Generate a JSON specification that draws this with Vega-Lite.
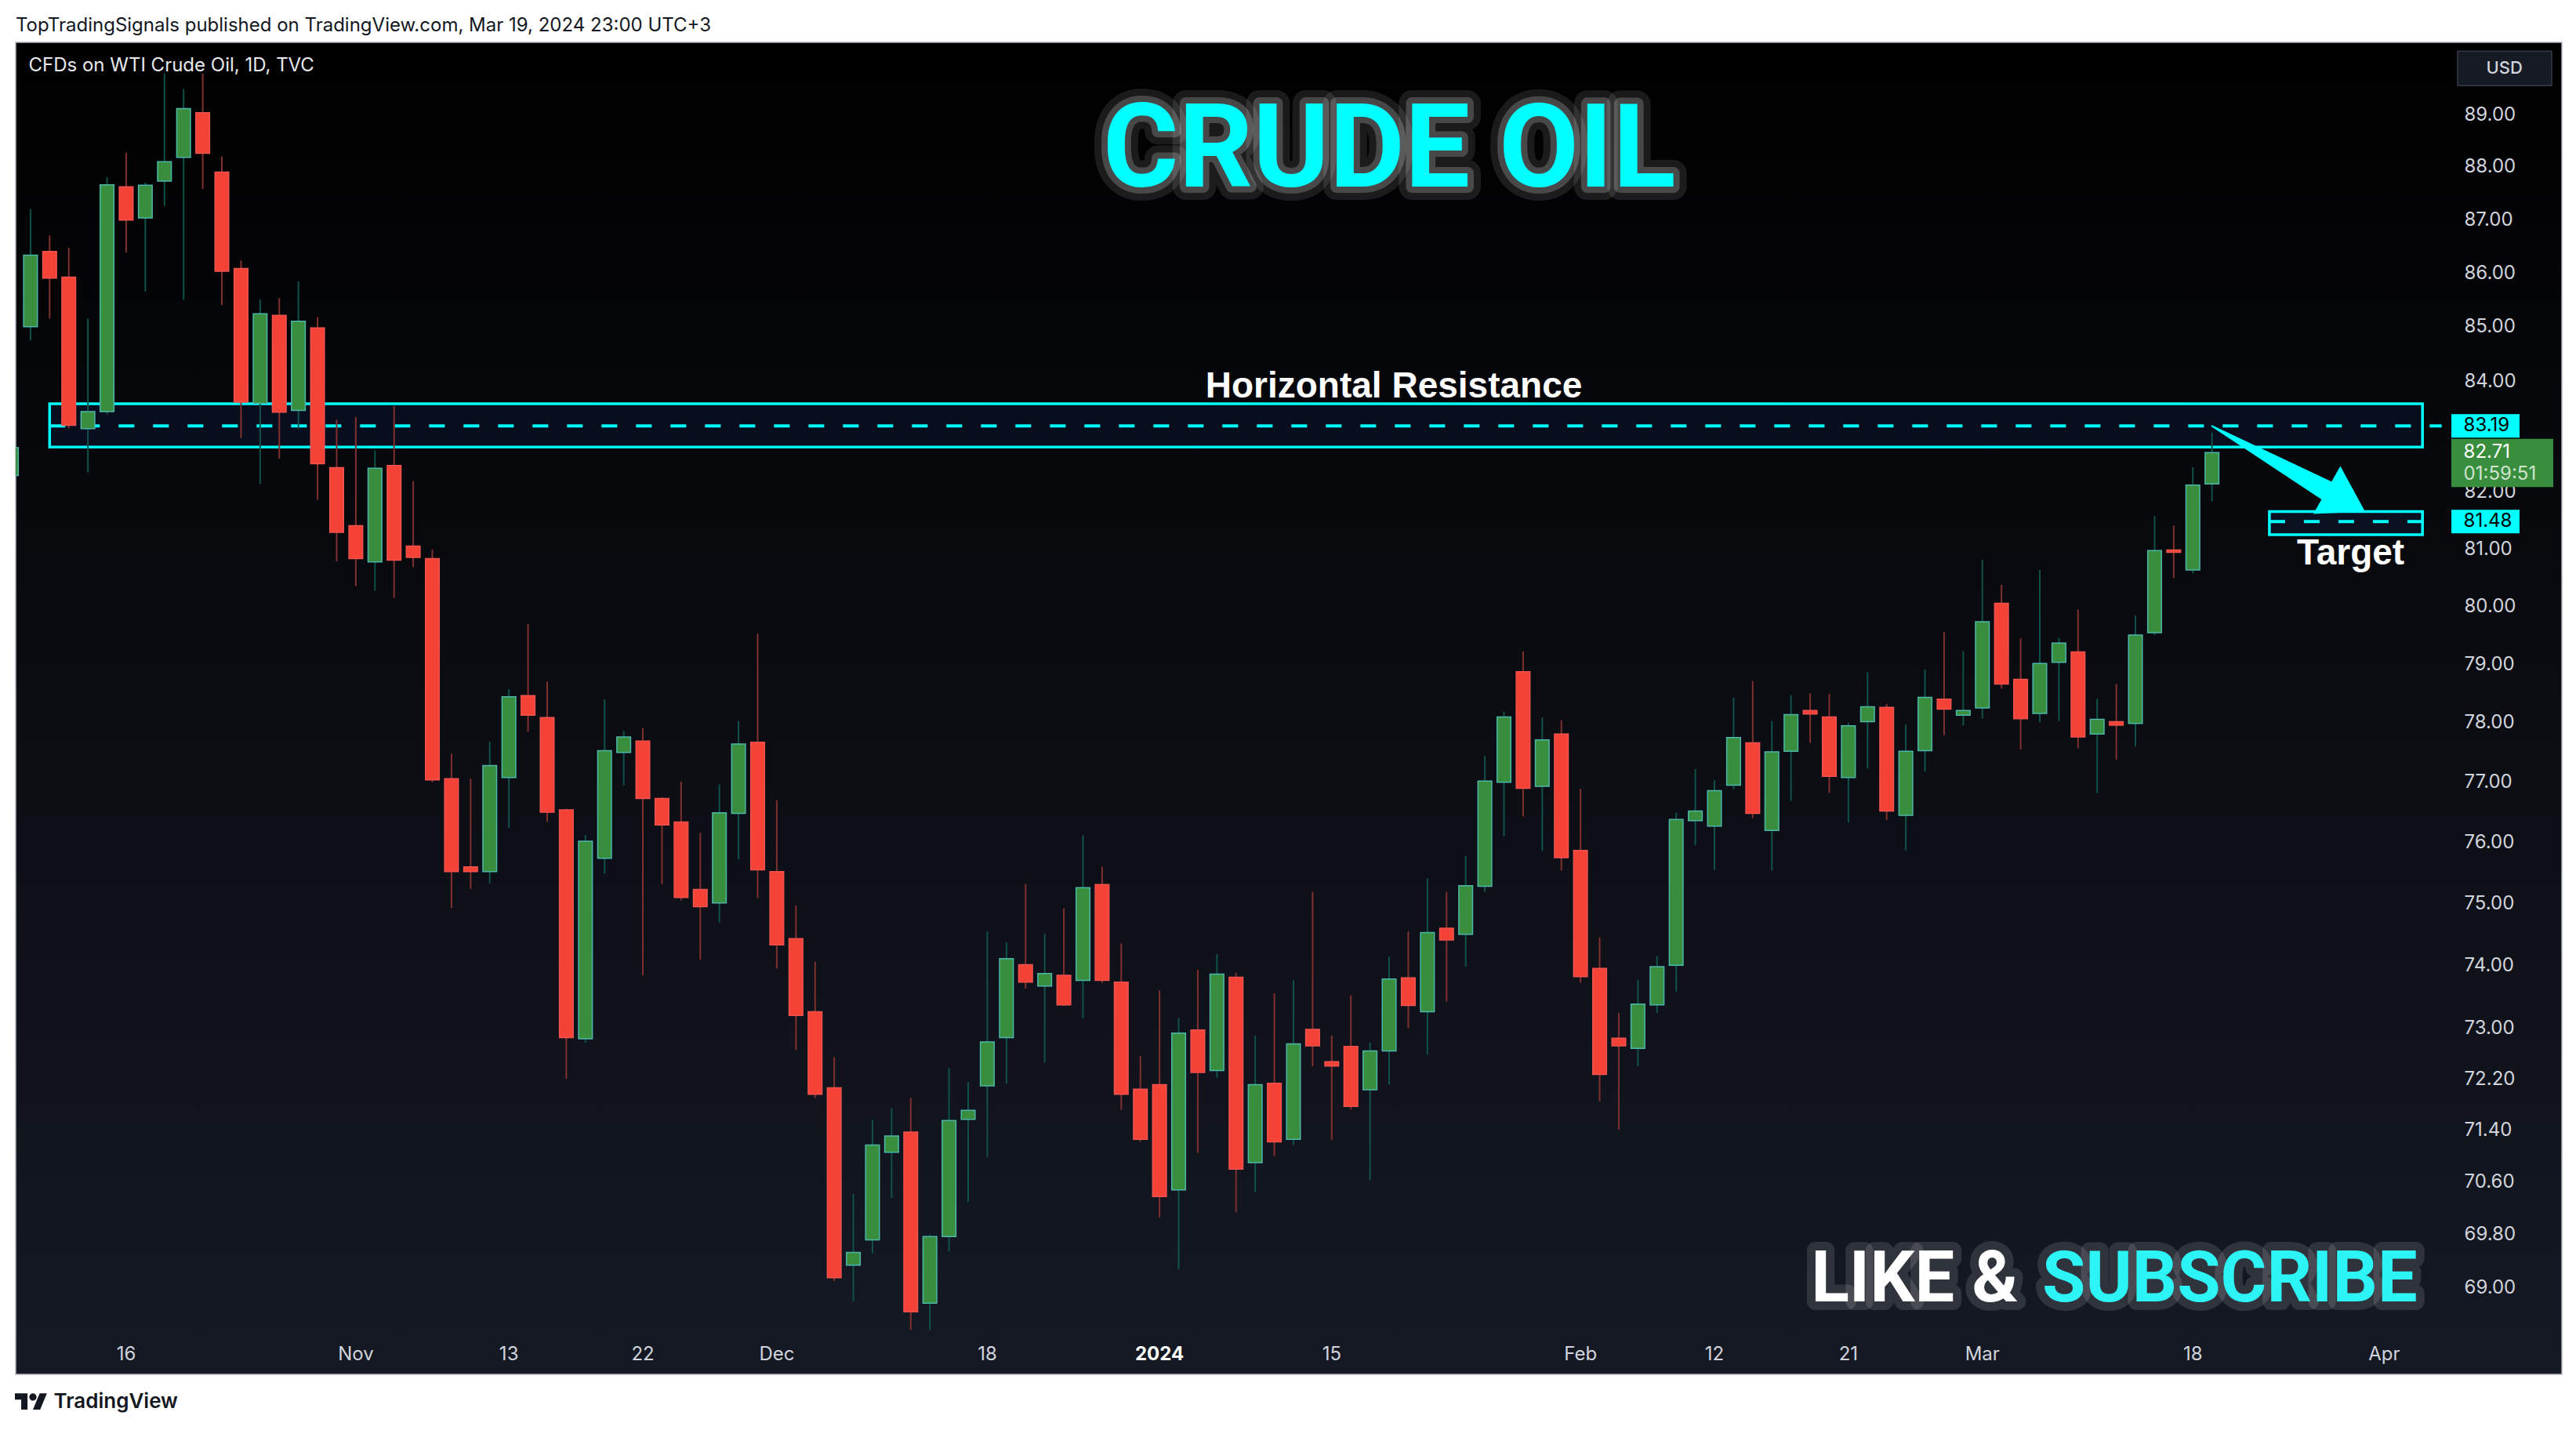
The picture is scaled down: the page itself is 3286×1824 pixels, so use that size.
{
"$schema": "https://vega.github.io/schema/vega-lite/v6.json",
"width": 3248, "height": 1699,
"autosize": {"type": "none"},
"padding": {"left": 20, "top": 54, "right": 18, "bottom": 71},
"background": "#ffffff",
"title": {"text": "TopTradingSignals published on TradingView.com, Mar 19, 2024 23:00 UTC+3", "anchor": "start", "frame": "group", "offset": 9, "font": "Inter", "fontSize": 24, "fontWeight": 400, "color": "#131722"},
"datasets": {
"candles": [
{"date":"2023-10-06","open":82.3,"high":83.4,"low":81.6,"close":82.8},
{"date":"2023-10-09","open":85.0,"high":87.2,"low":84.75,"close":86.33},
{"date":"2023-10-10","open":86.4,"high":86.7,"low":85.15,"close":85.9},
{"date":"2023-10-11","open":85.92,"high":86.47,"low":83.15,"close":83.2},
{"date":"2023-10-12","open":83.14,"high":85.15,"low":82.35,"close":83.45},
{"date":"2023-10-13","open":83.45,"high":87.8,"low":83.4,"close":87.66},
{"date":"2023-10-16","open":87.62,"high":88.27,"low":86.38,"close":86.99},
{"date":"2023-10-17","open":87.03,"high":87.7,"low":85.65,"close":87.65},
{"date":"2023-10-18","open":87.73,"high":89.8,"low":87.26,"close":88.1},
{"date":"2023-10-19","open":88.18,"high":89.5,"low":85.5,"close":89.12},
{"date":"2023-10-20","open":89.04,"high":89.8,"low":87.58,"close":88.26},
{"date":"2023-10-23","open":87.9,"high":88.2,"low":85.4,"close":86.03},
{"date":"2023-10-24","open":86.08,"high":86.23,"low":82.97,"close":83.62},
{"date":"2023-10-25","open":83.6,"high":85.5,"low":82.15,"close":85.24},
{"date":"2023-10-26","open":85.21,"high":85.53,"low":82.6,"close":83.44},
{"date":"2023-10-27","open":83.47,"high":85.84,"low":83.14,"close":85.1},
{"date":"2023-10-30","open":84.98,"high":85.18,"low":81.87,"close":82.51},
{"date":"2023-10-31","open":82.44,"high":83.3,"low":80.78,"close":81.29},
{"date":"2023-11-01","open":81.41,"high":83.35,"low":80.35,"close":80.83},
{"date":"2023-11-02","open":80.77,"high":82.75,"low":80.27,"close":82.43},
{"date":"2023-11-03","open":82.48,"high":83.55,"low":80.14,"close":80.8},
{"date":"2023-11-06","open":81.05,"high":82.2,"low":80.68,"close":80.85},
{"date":"2023-11-07","open":80.83,"high":80.99,"low":77.0,"close":77.04},
{"date":"2023-11-08","open":77.06,"high":77.48,"low":74.93,"close":75.52},
{"date":"2023-11-09","open":75.6,"high":77.06,"low":75.24,"close":75.52},
{"date":"2023-11-10","open":75.52,"high":77.68,"low":75.33,"close":77.28},
{"date":"2023-11-13","open":77.08,"high":78.57,"low":76.24,"close":78.44},
{"date":"2023-11-14","open":78.46,"high":79.69,"low":77.85,"close":78.13},
{"date":"2023-11-15","open":78.09,"high":78.7,"low":76.34,"close":76.5},
{"date":"2023-11-16","open":76.54,"high":76.56,"low":72.2,"close":72.85},
{"date":"2023-11-17","open":72.83,"high":76.12,"low":72.77,"close":76.02},
{"date":"2023-11-20","open":75.74,"high":78.4,"low":75.49,"close":77.53},
{"date":"2023-11-21","open":77.5,"high":77.86,"low":76.95,"close":77.76},
{"date":"2023-11-22","open":77.69,"high":77.91,"low":73.84,"close":76.73},
{"date":"2023-11-23","open":76.73,"high":76.75,"low":75.32,"close":76.29},
{"date":"2023-11-24","open":76.34,"high":77.01,"low":75.05,"close":75.1},
{"date":"2023-11-27","open":75.23,"high":76.16,"low":74.09,"close":74.95},
{"date":"2023-11-28","open":75.01,"high":76.96,"low":74.69,"close":76.49},
{"date":"2023-11-29","open":76.48,"high":78.03,"low":75.72,"close":77.64},
{"date":"2023-11-30","open":77.67,"high":79.52,"low":75.09,"close":75.55},
{"date":"2023-12-01","open":75.52,"high":76.7,"low":73.95,"close":74.33},
{"date":"2023-12-04","open":74.43,"high":74.97,"low":72.65,"close":73.2},
{"date":"2023-12-05","open":73.26,"high":74.06,"low":71.9,"close":71.96},
{"date":"2023-12-06","open":72.06,"high":72.54,"low":69.1,"close":69.15},
{"date":"2023-12-07","open":69.34,"high":70.42,"low":68.8,"close":69.53},
{"date":"2023-12-08","open":69.72,"high":71.56,"low":69.52,"close":71.17},
{"date":"2023-12-11","open":71.06,"high":71.74,"low":70.36,"close":71.31},
{"date":"2023-12-12","open":71.37,"high":71.9,"low":68.37,"close":68.64},
{"date":"2023-12-13","open":68.77,"high":69.8,"low":68.37,"close":69.77},
{"date":"2023-12-14","open":69.77,"high":72.37,"low":69.55,"close":71.55},
{"date":"2023-12-15","open":71.57,"high":72.15,"low":70.3,"close":71.71},
{"date":"2023-12-18","open":72.09,"high":74.55,"low":70.98,"close":72.78},
{"date":"2023-12-19","open":72.85,"high":74.37,"low":72.13,"close":74.11},
{"date":"2023-12-20","open":74.01,"high":75.32,"low":73.63,"close":73.73},
{"date":"2023-12-21","open":73.67,"high":74.51,"low":72.46,"close":73.87},
{"date":"2023-12-22","open":73.84,"high":74.92,"low":73.35,"close":73.37},
{"date":"2023-12-26","open":73.76,"high":76.12,"low":73.16,"close":75.26},
{"date":"2023-12-27","open":75.31,"high":75.6,"low":73.72,"close":73.76},
{"date":"2023-12-28","open":73.73,"high":74.35,"low":71.72,"close":71.96},
{"date":"2023-12-29","open":72.04,"high":72.56,"low":71.22,"close":71.26},
{"date":"2024-01-02","open":72.11,"high":73.6,"low":70.06,"close":70.38},
{"date":"2024-01-03","open":70.48,"high":73.16,"low":69.28,"close":72.92},
{"date":"2024-01-04","open":72.97,"high":73.93,"low":71.05,"close":72.3},
{"date":"2024-01-05","open":72.33,"high":74.18,"low":72.22,"close":73.86},
{"date":"2024-01-08","open":73.81,"high":73.88,"low":70.14,"close":70.8},
{"date":"2024-01-09","open":70.9,"high":72.88,"low":70.45,"close":72.11},
{"date":"2024-01-10","open":72.13,"high":73.55,"low":71.0,"close":71.22},
{"date":"2024-01-11","open":71.26,"high":73.76,"low":71.17,"close":72.75},
{"date":"2024-01-12","open":72.98,"high":75.19,"low":72.4,"close":72.72},
{"date":"2024-01-15","open":72.47,"high":72.88,"low":71.25,"close":72.4},
{"date":"2024-01-16","open":72.71,"high":73.52,"low":71.72,"close":71.77},
{"date":"2024-01-17","open":72.03,"high":72.77,"low":70.63,"close":72.64},
{"date":"2024-01-18","open":72.64,"high":74.14,"low":72.11,"close":73.78},
{"date":"2024-01-19","open":73.8,"high":74.55,"low":73.0,"close":73.36},
{"date":"2024-01-22","open":73.26,"high":75.41,"low":72.58,"close":74.53},
{"date":"2024-01-23","open":74.6,"high":75.19,"low":73.42,"close":74.41},
{"date":"2024-01-24","open":74.5,"high":75.78,"low":73.98,"close":75.29},
{"date":"2024-01-25","open":75.28,"high":77.44,"low":75.19,"close":77.02},
{"date":"2024-01-26","open":77.0,"high":78.19,"low":76.1,"close":78.1},
{"date":"2024-01-29","open":78.87,"high":79.22,"low":76.43,"close":76.9},
{"date":"2024-01-30","open":76.93,"high":78.09,"low":75.86,"close":77.71},
{"date":"2024-01-31","open":77.81,"high":78.04,"low":75.54,"close":75.75},
{"date":"2024-02-01","open":75.87,"high":76.89,"low":73.72,"close":73.82},
{"date":"2024-02-02","open":73.95,"high":74.45,"low":71.85,"close":72.27},
{"date":"2024-02-05","open":72.84,"high":73.24,"low":71.41,"close":72.72},
{"date":"2024-02-06","open":72.68,"high":73.77,"low":72.4,"close":73.38},
{"date":"2024-02-07","open":73.37,"high":74.15,"low":73.24,"close":73.98},
{"date":"2024-02-08","open":74.0,"high":76.49,"low":73.58,"close":76.38},
{"date":"2024-02-09","open":76.36,"high":77.22,"low":75.96,"close":76.52},
{"date":"2024-02-12","open":76.27,"high":77.03,"low":75.55,"close":76.86},
{"date":"2024-02-13","open":76.95,"high":78.43,"low":76.88,"close":77.75},
{"date":"2024-02-14","open":77.66,"high":78.71,"low":76.4,"close":76.48},
{"date":"2024-02-15","open":76.2,"high":78.03,"low":75.54,"close":77.51},
{"date":"2024-02-16","open":77.52,"high":78.47,"low":76.69,"close":78.14},
{"date":"2024-02-19","open":78.21,"high":78.5,"low":77.66,"close":78.15},
{"date":"2024-02-20","open":78.1,"high":78.49,"low":76.82,"close":77.1},
{"date":"2024-02-21","open":77.08,"high":78.0,"low":76.33,"close":77.95},
{"date":"2024-02-22","open":78.02,"high":78.86,"low":77.23,"close":78.27},
{"date":"2024-02-23","open":78.26,"high":78.32,"low":76.37,"close":76.52},
{"date":"2024-02-26","open":76.45,"high":77.97,"low":75.87,"close":77.52},
{"date":"2024-02-27","open":77.53,"high":78.91,"low":77.18,"close":78.43},
{"date":"2024-02-28","open":78.4,"high":79.55,"low":77.79,"close":78.23},
{"date":"2024-02-29","open":78.13,"high":79.22,"low":77.95,"close":78.21},
{"date":"2024-03-01","open":78.25,"high":80.81,"low":78.07,"close":79.73},
{"date":"2024-03-04","open":80.05,"high":80.37,"low":78.58,"close":78.66},
{"date":"2024-03-05","open":78.74,"high":79.44,"low":77.55,"close":78.07},
{"date":"2024-03-06","open":78.16,"high":80.63,"low":78.01,"close":79.01},
{"date":"2024-03-07","open":79.03,"high":79.45,"low":78.03,"close":79.36},
{"date":"2024-03-08","open":79.21,"high":79.94,"low":77.57,"close":77.76},
{"date":"2024-03-11","open":77.81,"high":78.41,"low":76.82,"close":78.06},
{"date":"2024-03-12","open":78.02,"high":78.66,"low":77.38,"close":77.96},
{"date":"2024-03-13","open":77.99,"high":79.84,"low":77.6,"close":79.5},
{"date":"2024-03-14","open":79.54,"high":81.58,"low":79.5,"close":80.97},
{"date":"2024-03-15","open":80.98,"high":81.41,"low":80.49,"close":80.94},
{"date":"2024-03-18","open":80.63,"high":82.45,"low":80.57,"close":82.13},
{"date":"2024-03-19","open":82.15,"high":83.07,"low":81.84,"close":82.71}
],
"zones": [
{"date":"2023-10-10","date2":"2024-04-03","top":83.59,"bottom":82.81},
{"date":"2024-03-22","date2":"2024-04-03","top":81.66,"bottom":81.25}
],
"levels": [
{"date":"2023-10-10","date2":"2024-04-04","price":83.19},
{"date":"2024-03-22","date2":"2024-04-04","price":81.48}
],
"arrow": [
{"date":"2024-03-19","price":83.19,"step":0},
{"date":"2024-03-27","price":82.03,"step":1}
],
"arrowhead": [{"date":"2024-03-28","price":81.85}],
"legendline": [{"date":"2023-10-06","price":89.95,"label":"CFDs on WTI Crude Oil, 1D, TVC"}],
"headline": [{"date":"2024-01-18","price":87.63,"label":"CRUDE OIL"}],
"notes": [
{"date":"2024-01-18","price":83.7,"label":"Horizontal Resistance"},
{"date":"2024-03-28","price":80.73,"label":"Target"}
],
"like": [{"date":"2024-03-05","price":68.8,"label":"LIKE &"}],
"subscribe": [{"date":"2024-03-06","price":68.8,"label":"SUBSCRIBE"}],
"pricetags": [{"date":"2024-04-04","price":83.19},{"date":"2024-04-04","price":81.48}],
"last": [{"date":"2024-04-04","price":82.71,"timer":"01:59:51"}],
"currency": [{"date":"2024-04-04","price":89.9,"label":"USD"}],
"brand": [{"date":"2023-10-06","price":67.31,"label":"TradingView"}]
},
"encoding": {
"x": {"field": "date", "type": "ordinal",
 "scale": {"type": "band", "domain": ["2023-10-06","2023-10-09","2023-10-10","2023-10-11","2023-10-12","2023-10-13","2023-10-16","2023-10-17","2023-10-18","2023-10-19","2023-10-20","2023-10-23","2023-10-24","2023-10-25","2023-10-26","2023-10-27","2023-10-30","2023-10-31","2023-11-01","2023-11-02","2023-11-03","2023-11-06","2023-11-07","2023-11-08","2023-11-09","2023-11-10","2023-11-13","2023-11-14","2023-11-15","2023-11-16","2023-11-17","2023-11-20","2023-11-21","2023-11-22","2023-11-23","2023-11-24","2023-11-27","2023-11-28","2023-11-29","2023-11-30","2023-12-01","2023-12-04","2023-12-05","2023-12-06","2023-12-07","2023-12-08","2023-12-11","2023-12-12","2023-12-13","2023-12-14","2023-12-15","2023-12-18","2023-12-19","2023-12-20","2023-12-21","2023-12-22","2023-12-26","2023-12-27","2023-12-28","2023-12-29","2024-01-02","2024-01-03","2024-01-04","2024-01-05","2024-01-08","2024-01-09","2024-01-10","2024-01-11","2024-01-12","2024-01-15","2024-01-16","2024-01-17","2024-01-18","2024-01-19","2024-01-22","2024-01-23","2024-01-24","2024-01-25","2024-01-26","2024-01-29","2024-01-30","2024-01-31","2024-02-01","2024-02-02","2024-02-05","2024-02-06","2024-02-07","2024-02-08","2024-02-09","2024-02-12","2024-02-13","2024-02-14","2024-02-15","2024-02-16","2024-02-19","2024-02-20","2024-02-21","2024-02-22","2024-02-23","2024-02-26","2024-02-27","2024-02-28","2024-02-29","2024-03-01","2024-03-04","2024-03-05","2024-03-06","2024-03-07","2024-03-08","2024-03-11","2024-03-12","2024-03-13","2024-03-14","2024-03-15","2024-03-18","2024-03-19","2024-03-20","2024-03-21","2024-03-22","2024-03-25","2024-03-26","2024-03-27","2024-03-28","2024-03-29","2024-04-01","2024-04-02","2024-04-03","2024-04-04"], "range": [-17.7, 3106.8], "paddingInner": 0.28, "paddingOuter": 0.14, "align": 0.5},
 "axis": {"orient": "bottom", "offset": -53, "title": null, "labelAngle": 0, "labelPadding": 27, "labelBaseline": "middle", "labelOverlap": false,
  "values": ["2023-10-16","2023-11-01","2023-11-13","2023-11-22","2023-12-01","2023-12-18","2024-01-02","2024-01-15","2024-02-01","2024-02-12","2024-02-21","2024-03-01","2024-03-18","2024-04-01"],
  "labelExpr": "datum.value == '2023-11-01' ? 'Nov' : datum.value == '2023-12-01' ? 'Dec' : datum.value == '2024-01-02' ? '2024' : datum.value == '2024-02-01' ? 'Feb' : datum.value == '2024-03-01' ? 'Mar' : datum.value == '2024-04-01' ? 'Apr' : substring(datum.value, 8, 10)",
  "labelFontWeight": {"condition": {"test": "datum.value == '2024-01-02'", "value": "bold"}, "value": "normal"},
  "labelColor": {"condition": {"test": "datum.value == '2024-01-02'", "value": "#ffffff"}, "value": "#d1d4dc"}}}
},
"layer": [
{"data": {"name": "zones"},
 "mark": {"type": "rect", "fill": "#2962ff", "fillOpacity": 0.08, "stroke": "#00ffff", "strokeWidth": 3.5},
 "encoding": {
  "x": {"field": "date", "type": "ordinal", "bandPosition": 0.5, "scale": {"type": "band", "domain": ["2023-10-06","2023-10-09","2023-10-10","2023-10-11","2023-10-12","2023-10-13","2023-10-16","2023-10-17","2023-10-18","2023-10-19","2023-10-20","2023-10-23","2023-10-24","2023-10-25","2023-10-26","2023-10-27","2023-10-30","2023-10-31","2023-11-01","2023-11-02","2023-11-03","2023-11-06","2023-11-07","2023-11-08","2023-11-09","2023-11-10","2023-11-13","2023-11-14","2023-11-15","2023-11-16","2023-11-17","2023-11-20","2023-11-21","2023-11-22","2023-11-23","2023-11-24","2023-11-27","2023-11-28","2023-11-29","2023-11-30","2023-12-01","2023-12-04","2023-12-05","2023-12-06","2023-12-07","2023-12-08","2023-12-11","2023-12-12","2023-12-13","2023-12-14","2023-12-15","2023-12-18","2023-12-19","2023-12-20","2023-12-21","2023-12-22","2023-12-26","2023-12-27","2023-12-28","2023-12-29","2024-01-02","2024-01-03","2024-01-04","2024-01-05","2024-01-08","2024-01-09","2024-01-10","2024-01-11","2024-01-12","2024-01-15","2024-01-16","2024-01-17","2024-01-18","2024-01-19","2024-01-22","2024-01-23","2024-01-24","2024-01-25","2024-01-26","2024-01-29","2024-01-30","2024-01-31","2024-02-01","2024-02-02","2024-02-05","2024-02-06","2024-02-07","2024-02-08","2024-02-09","2024-02-12","2024-02-13","2024-02-14","2024-02-15","2024-02-16","2024-02-19","2024-02-20","2024-02-21","2024-02-22","2024-02-23","2024-02-26","2024-02-27","2024-02-28","2024-02-29","2024-03-01","2024-03-04","2024-03-05","2024-03-06","2024-03-07","2024-03-08","2024-03-11","2024-03-12","2024-03-13","2024-03-14","2024-03-15","2024-03-18","2024-03-19","2024-03-20","2024-03-21","2024-03-22","2024-03-25","2024-03-26","2024-03-27","2024-03-28","2024-03-29","2024-04-01","2024-04-02","2024-04-03","2024-04-04"], "range": [-17.7, 3106.8], "paddingInner": 0.28, "paddingOuter": 0.14, "align": 0.5}},
  "x2": {"field": "date2", "bandPosition": 0.5},
  "y": {"field": "top", "type": "quantitative", "scale": {"type": "log", "domain": [67.716, 90.411], "nice": false}},
  "y2": {"field": "bottom"}}},
{"data": {"name": "levels"},
 "mark": {"type": "rule", "color": "#00ffff", "strokeWidth": 4, "strokeDash": [20, 24]},
 "encoding": {
  "x": {"field": "date", "type": "ordinal", "bandPosition": 0.5, "scale": {"type": "band", "domain": ["2023-10-06","2023-10-09","2023-10-10","2023-10-11","2023-10-12","2023-10-13","2023-10-16","2023-10-17","2023-10-18","2023-10-19","2023-10-20","2023-10-23","2023-10-24","2023-10-25","2023-10-26","2023-10-27","2023-10-30","2023-10-31","2023-11-01","2023-11-02","2023-11-03","2023-11-06","2023-11-07","2023-11-08","2023-11-09","2023-11-10","2023-11-13","2023-11-14","2023-11-15","2023-11-16","2023-11-17","2023-11-20","2023-11-21","2023-11-22","2023-11-23","2023-11-24","2023-11-27","2023-11-28","2023-11-29","2023-11-30","2023-12-01","2023-12-04","2023-12-05","2023-12-06","2023-12-07","2023-12-08","2023-12-11","2023-12-12","2023-12-13","2023-12-14","2023-12-15","2023-12-18","2023-12-19","2023-12-20","2023-12-21","2023-12-22","2023-12-26","2023-12-27","2023-12-28","2023-12-29","2024-01-02","2024-01-03","2024-01-04","2024-01-05","2024-01-08","2024-01-09","2024-01-10","2024-01-11","2024-01-12","2024-01-15","2024-01-16","2024-01-17","2024-01-18","2024-01-19","2024-01-22","2024-01-23","2024-01-24","2024-01-25","2024-01-26","2024-01-29","2024-01-30","2024-01-31","2024-02-01","2024-02-02","2024-02-05","2024-02-06","2024-02-07","2024-02-08","2024-02-09","2024-02-12","2024-02-13","2024-02-14","2024-02-15","2024-02-16","2024-02-19","2024-02-20","2024-02-21","2024-02-22","2024-02-23","2024-02-26","2024-02-27","2024-02-28","2024-02-29","2024-03-01","2024-03-04","2024-03-05","2024-03-06","2024-03-07","2024-03-08","2024-03-11","2024-03-12","2024-03-13","2024-03-14","2024-03-15","2024-03-18","2024-03-19","2024-03-20","2024-03-21","2024-03-22","2024-03-25","2024-03-26","2024-03-27","2024-03-28","2024-03-29","2024-04-01","2024-04-02","2024-04-03","2024-04-04"], "range": [-17.7, 3106.8], "paddingInner": 0.28, "paddingOuter": 0.14, "align": 0.5}},
  "x2": {"field": "date2", "bandPosition": 0.5},
  "y": {"field": "price", "type": "quantitative", "scale": {"type": "log", "domain": [67.716, 90.411], "nice": false}}}},
{"data": {"name": "candles"},
 "mark": {"type": "rule", "strokeWidth": 2, "clip": true},
 "encoding": {
  "y": {"field": "low", "type": "quantitative", "scale": {"type": "log", "domain": [67.716, 90.411], "nice": false},
   "axis": {"orient": "right", "offset": -148, "title": null, "format": ".2f", "labelAlign": "left", "labelBaseline": "middle", "labelPadding": 23, "labelOverlap": false, "values": [69, 69.8, 70.6, 71.4, 72.2, 73, 74, 75, 76, 77, 78, 79, 80, 81, 82, 84, 85, 86, 87, 88, 89]}},
  "y2": {"field": "high"},
  "color": {"condition": {"test": "datum.close >= datum.open", "value": "#105249"}, "value": "#80302e"}}},
{"data": {"name": "candles"},
 "mark": {"type": "bar", "strokeWidth": 1.5, "clip": true},
 "encoding": {
  "y": {"field": "open", "type": "quantitative", "scale": {"type": "log", "domain": [67.716, 90.411], "nice": false}},
  "y2": {"field": "close"},
  "fill": {"condition": {"test": "datum.close >= datum.open", "value": "#388e3c"}, "value": "#f44336"},
  "stroke": {"condition": {"test": "datum.close >= datum.open", "value": "#4db6ac"}, "value": "#ef5350"}}},
{"data": {"name": "arrow"},
 "mark": {"type": "trail", "color": "#00ffff", "opacity": 1},
 "encoding": {
  "y": {"field": "price", "type": "quantitative", "scale": {"type": "log", "domain": [67.716, 90.411], "nice": false}},
  "size": {"field": "step", "type": "quantitative", "scale": {"domain": [0, 1], "range": [2, 26]}, "legend": null}}},
{"data": {"name": "arrowhead"},
 "mark": {"type": "point", "shape": "M-28,-35 L28,0 L-28,35 Z", "size": 4, "angle": 29.5, "filled": true, "fill": "#00ffff", "strokeWidth": 0, "opacity": 1},
 "encoding": {
  "y": {"field": "price", "type": "quantitative", "scale": {"type": "log", "domain": [67.716, 90.411], "nice": false}}}},
{"data": {"name": "legendline"},
 "mark": {"type": "text", "font": "Inter", "fontSize": 24, "align": "left", "baseline": "middle", "dx": 22, "fill": "#e6e8ee"},
 "encoding": {"y": {"field": "price", "type": "quantitative", "scale": {"type": "log", "domain": [67.716, 90.411], "nice": false}}, "text": {"field": "label"}}},
{"data": {"name": "headline"},
 "mark": {"type": "text", "font": "Liberation Sans Narrow, Roboto", "fontSize": 148, "fontWeight": "bold", "align": "center", "baseline": "alphabetic", "fillOpacity": 0, "stroke": "#ffffff", "strokeOpacity": 0.1, "strokeWidth": 34, "strokeJoin": "round"},
 "encoding": {"y": {"field": "price", "type": "quantitative", "scale": {"type": "log", "domain": [67.716, 90.411], "nice": false}}, "text": {"field": "label"}}},
{"data": {"name": "headline"},
 "mark": {"type": "text", "font": "Liberation Sans Narrow, Roboto", "fontSize": 148, "fontWeight": "bold", "align": "center", "baseline": "alphabetic", "fillOpacity": 0, "stroke": "#ffffff", "strokeOpacity": 0.2, "strokeWidth": 16, "strokeJoin": "round"},
 "encoding": {"y": {"field": "price", "type": "quantitative", "scale": {"type": "log", "domain": [67.716, 90.411], "nice": false}}, "text": {"field": "label"}}},
{"data": {"name": "headline"},
 "mark": {"type": "text", "font": "Liberation Sans Narrow, Roboto", "fontSize": 148, "fontWeight": "bold", "align": "center", "baseline": "alphabetic", "fill": "#00ffff"},
 "encoding": {"y": {"field": "price", "type": "quantitative", "scale": {"type": "log", "domain": [67.716, 90.411], "nice": false}}, "text": {"field": "label"}}},
{"data": {"name": "notes"},
 "mark": {"type": "text", "font": "Liberation Sans", "fontSize": 46, "fontWeight": "bold", "align": "center", "baseline": "alphabetic", "fill": "#ffffff", "dx": 6},
 "encoding": {"y": {"field": "price", "type": "quantitative", "scale": {"type": "log", "domain": [67.716, 90.411], "nice": false}}, "text": {"field": "label"}}},
{"data": {"name": "like"},
 "mark": {"type": "text", "font": "Liberation Sans Narrow, Roboto", "fontSize": 90, "fontWeight": "bold", "align": "right", "baseline": "alphabetic", "dx": -3, "fillOpacity": 0, "stroke": "#ffffff", "strokeOpacity": 0.12, "strokeWidth": 22, "strokeJoin": "round"},
 "encoding": {"y": {"field": "price", "type": "quantitative", "scale": {"type": "log", "domain": [67.716, 90.411], "nice": false}}, "text": {"field": "label"}}},
{"data": {"name": "subscribe"},
 "mark": {"type": "text", "font": "Liberation Sans Narrow, Roboto", "fontSize": 90, "fontWeight": "bold", "align": "left", "baseline": "alphabetic", "dx": 3, "fillOpacity": 0, "stroke": "#ffffff", "strokeOpacity": 0.12, "strokeWidth": 22, "strokeJoin": "round"},
 "encoding": {"y": {"field": "price", "type": "quantitative", "scale": {"type": "log", "domain": [67.716, 90.411], "nice": false}}, "text": {"field": "label"}}},
{"data": {"name": "like"},
 "mark": {"type": "text", "font": "Liberation Sans Narrow, Roboto", "fontSize": 90, "fontWeight": "bold", "align": "right", "baseline": "alphabetic", "dx": -3, "fill": "#ffffff"},
 "encoding": {"y": {"field": "price", "type": "quantitative", "scale": {"type": "log", "domain": [67.716, 90.411], "nice": false}}, "text": {"field": "label"}}},
{"data": {"name": "subscribe"},
 "mark": {"type": "text", "font": "Liberation Sans Narrow, Roboto", "fontSize": 90, "fontWeight": "bold", "align": "left", "baseline": "alphabetic", "dx": 3, "fill": "#2ef5f5"},
 "encoding": {"y": {"field": "price", "type": "quantitative", "scale": {"type": "log", "domain": [67.716, 90.411], "nice": false}}, "text": {"field": "label"}}},
{"data": {"name": "pricetags"},
 "mark": {"type": "point", "shape": "M12.4,-15 H99.4 V15 H12.4 Z", "size": 4, "filled": true, "fill": "#00ffff", "strokeWidth": 0, "opacity": 1},
 "encoding": {"y": {"field": "price", "type": "quantitative", "scale": {"type": "log", "domain": [67.716, 90.411], "nice": false}}}},
{"data": {"name": "pricetags"},
 "mark": {"type": "text", "font": "Inter", "fontSize": 24, "align": "left", "baseline": "middle", "dx": 28, "fill": "#000000"},
 "encoding": {"y": {"field": "price", "type": "quantitative", "scale": {"type": "log", "domain": [67.716, 90.411], "nice": false}}, "text": {"field": "price", "format": ".2f"}}},
{"data": {"name": "last"},
 "mark": {"type": "point", "shape": "M12.4,-17.6 H142.4 V44 H12.4 Z", "size": 4, "filled": true, "fill": "#388e3c", "strokeWidth": 0, "opacity": 1},
 "encoding": {"y": {"field": "price", "type": "quantitative", "scale": {"type": "log", "domain": [67.716, 90.411], "nice": false}}}},
{"data": {"name": "last"},
 "mark": {"type": "text", "font": "Inter", "fontSize": 24, "align": "left", "baseline": "middle", "dx": 28, "fill": "#ffffff"},
 "encoding": {"y": {"field": "price", "type": "quantitative", "scale": {"type": "log", "domain": [67.716, 90.411], "nice": false}}, "text": {"field": "price", "format": ".2f"}}},
{"data": {"name": "last"},
 "mark": {"type": "text", "font": "Inter", "fontSize": 24, "align": "left", "baseline": "middle", "dx": 28, "dy": 28, "fill": "#cfe3cf"},
 "encoding": {"y": {"field": "price", "type": "quantitative", "scale": {"type": "log", "domain": [67.716, 90.411], "nice": false}}, "text": {"field": "timer"}}},
{"data": {"name": "currency"},
 "mark": {"type": "point", "shape": "M20.4,-22 H140.4 V22 H20.4 Z", "size": 4, "filled": true, "fill": "#161a25", "stroke": "#363a45", "strokeWidth": 1.5, "opacity": 1},
 "encoding": {"y": {"field": "price", "type": "quantitative", "scale": {"type": "log", "domain": [67.716, 90.411], "nice": false}}}},
{"data": {"name": "currency"},
 "mark": {"type": "text", "font": "Inter", "fontSize": 22, "fontWeight": 500, "align": "center", "baseline": "middle", "dx": 80, "fill": "#d1d4dc"},
 "encoding": {"y": {"field": "price", "type": "quantitative", "scale": {"type": "log", "domain": [67.716, 90.411], "nice": false}}, "text": {"field": "label"}}},
{"data": {"name": "brand"},
 "mark": {"type": "point", "shape": "M17.9,8.4 H10.9 V-2.6 H3.9 V-9.6 H17.9 Z M31.9,8.4 H23.9 L31.4,-9.6 H39.4 Z M19.9,-5.6 A4,4 0 1,0 27.9,-5.6 A4,4 0 1,0 19.9,-5.6 Z", "size": 5.29, "filled": true, "fill": "#131722", "strokeWidth": 0, "opacity": 1},
 "encoding": {"y": {"field": "price", "type": "quantitative", "scale": {"type": "log", "domain": [67.716, 90.411], "nice": false}}}},
{"data": {"name": "brand"},
 "mark": {"type": "text", "font": "Inter", "fontSize": 26, "fontWeight": 600, "align": "left", "baseline": "middle", "dx": 54, "fill": "#131722"},
 "encoding": {"y": {"field": "price", "type": "quantitative", "scale": {"type": "log", "domain": [67.716, 90.411], "nice": false}}, "text": {"field": "label"}}}
],
"config": {
 "view": {"stroke": "#b2b5be", "strokeWidth": 1.5, "fill": {"gradient": "linear", "x1": 0, "y1": 0, "x2": 0, "y2": 1, "stops": [{"offset": 0, "color": "#000000"}, {"offset": 1, "color": "#151924"}]}},
 "axis": {"grid": false, "domain": false, "ticks": false, "tickSize": 0, "labelFont": "Inter", "labelFontSize": 24, "labelColor": "#d1d4dc"}
}
}
